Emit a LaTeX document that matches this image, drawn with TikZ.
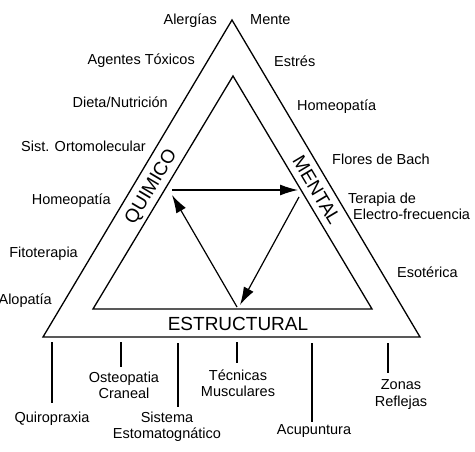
\documentclass[tikz,border=0pt]{standalone}
\usepackage{fontspec}
\setmainfont{Liberation Sans}
\usetikzlibrary{arrows.meta}
\begin{document}
\begin{tikzpicture}[x=1pt,y=-1pt,
  lab/.style={font=\fontsize{14.5}{16.5}\selectfont, inner sep=0pt},
  labl/.style={lab, align=center, anchor=north},
  big/.style={font=\fontsize{19}{21}\selectfont, inner sep=0pt, text height=13.6pt, text depth=0pt},
  tri/.style={draw, line width=1.3pt, line join=miter},
  flow/.style={draw, line width=1.2pt, -{Latex[length=18pt,width=11pt]}},
  tick/.style={draw, line width=1.4pt}]
\useasboundingbox (0,0) rectangle (475,452);
% triangles
\coordinate (oa) at (232,20);
\coordinate (ol) at (43,337);
\coordinate (or) at (420,337);
\coordinate (ia) at (233,76);
\coordinate (il) at (93,309);
\coordinate (ir) at (372,309);
\draw[tri] (oa) -- (ol) -- (or) -- cycle;
\draw[tri] (ia) -- (il) -- (ir) -- cycle;
% big labels
\node[big, rotate=59.2] (quim) at (150,186) {QUIMICO};
\node[big, rotate=-59.2] (ment) at (317,190) {MENTAL};
\node[big] (estr) at (238,323.5) {ESTRUCTURAL};
% arrows
\coordinate (a1s) at (172,190);
\coordinate (a1e) at (298,190);
\coordinate (a2s) at (299,197);
\coordinate (a2e) at (240,305);
\coordinate (a3s) at (237,307);
\coordinate (a3e) at (172,195);
\draw[flow] (a1s) -- (a1e);
\draw[flow] (a2s) -- (a2e);
\draw[flow] (a3s) -- (a3e);
% left labels
\node[lab, anchor=base east] (alerg) at (217,25) {Alergías};
\node[lab, anchor=base east] (agent) at (195,65) {Agentes Tóxicos};
\node[lab, anchor=base east] (dieta) at (168,108) {Dieta/Nutrición};
\node[lab, anchor=base east] (sist) at (146,152) {Sist. Ortomolecular};
\node[lab, anchor=base east] (homl) at (111,205) {Homeopatía};
\node[lab, anchor=base east] (fito) at (78,258) {Fitoterapia};
\node[lab, anchor=base east] (alop) at (52,305) {Alopatía};
% right labels
\node[lab, anchor=base west] (mente) at (250,25) {Mente};
\node[lab, anchor=base west] (estres) at (274,67) {Estrés};
\node[lab, anchor=base west] (homr) at (297,111) {Homeopatía};
\node[lab, anchor=base west] (flores) at (332,165) {Flores de Bach};
\node[lab, anchor=base west] (terap) at (348,204) {Terapia de};
\node[lab, anchor=base west] (electro) at (353,220) {Electro-frecuencia};
\node[lab, anchor=base west] (esot) at (397,277) {Esotérica};
% bottom labels
\node[lab, anchor=base] (quiro) at (52,422) {Quiropraxia};
\node[labl] (osteo) at (124,371.4) {Osteopatia\\Craneal};
\node[labl] (sistema) at (167,411.4) {Sistema\\Estomatognático};
\node[labl] (tecn) at (238,369.4) {Técnicas\\Musculares};
\node[lab, anchor=base] (acup) at (314,435) {Acupuntura};
\node[labl] (zonas) at (401,379.4) {Zonas\\Reflejas};
% bottom ticks
\coordinate (t1a) at (52,342);  \coordinate (t1b) at (52,403);
\coordinate (t2a) at (121,342); \coordinate (t2b) at (121,367);
\coordinate (t3a) at (178,343); \coordinate (t3b) at (178,407);
\coordinate (t4a) at (237,342); \coordinate (t4b) at (237,363);
\coordinate (t5a) at (312,343); \coordinate (t5b) at (312,422);
\coordinate (t6a) at (388,343); \coordinate (t6b) at (388,373);
\draw[tick] (t1a) -- (t1b);
\draw[tick] (t2a) -- (t2b);
\draw[tick] (t3a) -- (t3b);
\draw[tick] (t4a) -- (t4b);
\draw[tick] (t5a) -- (t5b);
\draw[tick] (t6a) -- (t6b);
\end{tikzpicture}
\end{document}
